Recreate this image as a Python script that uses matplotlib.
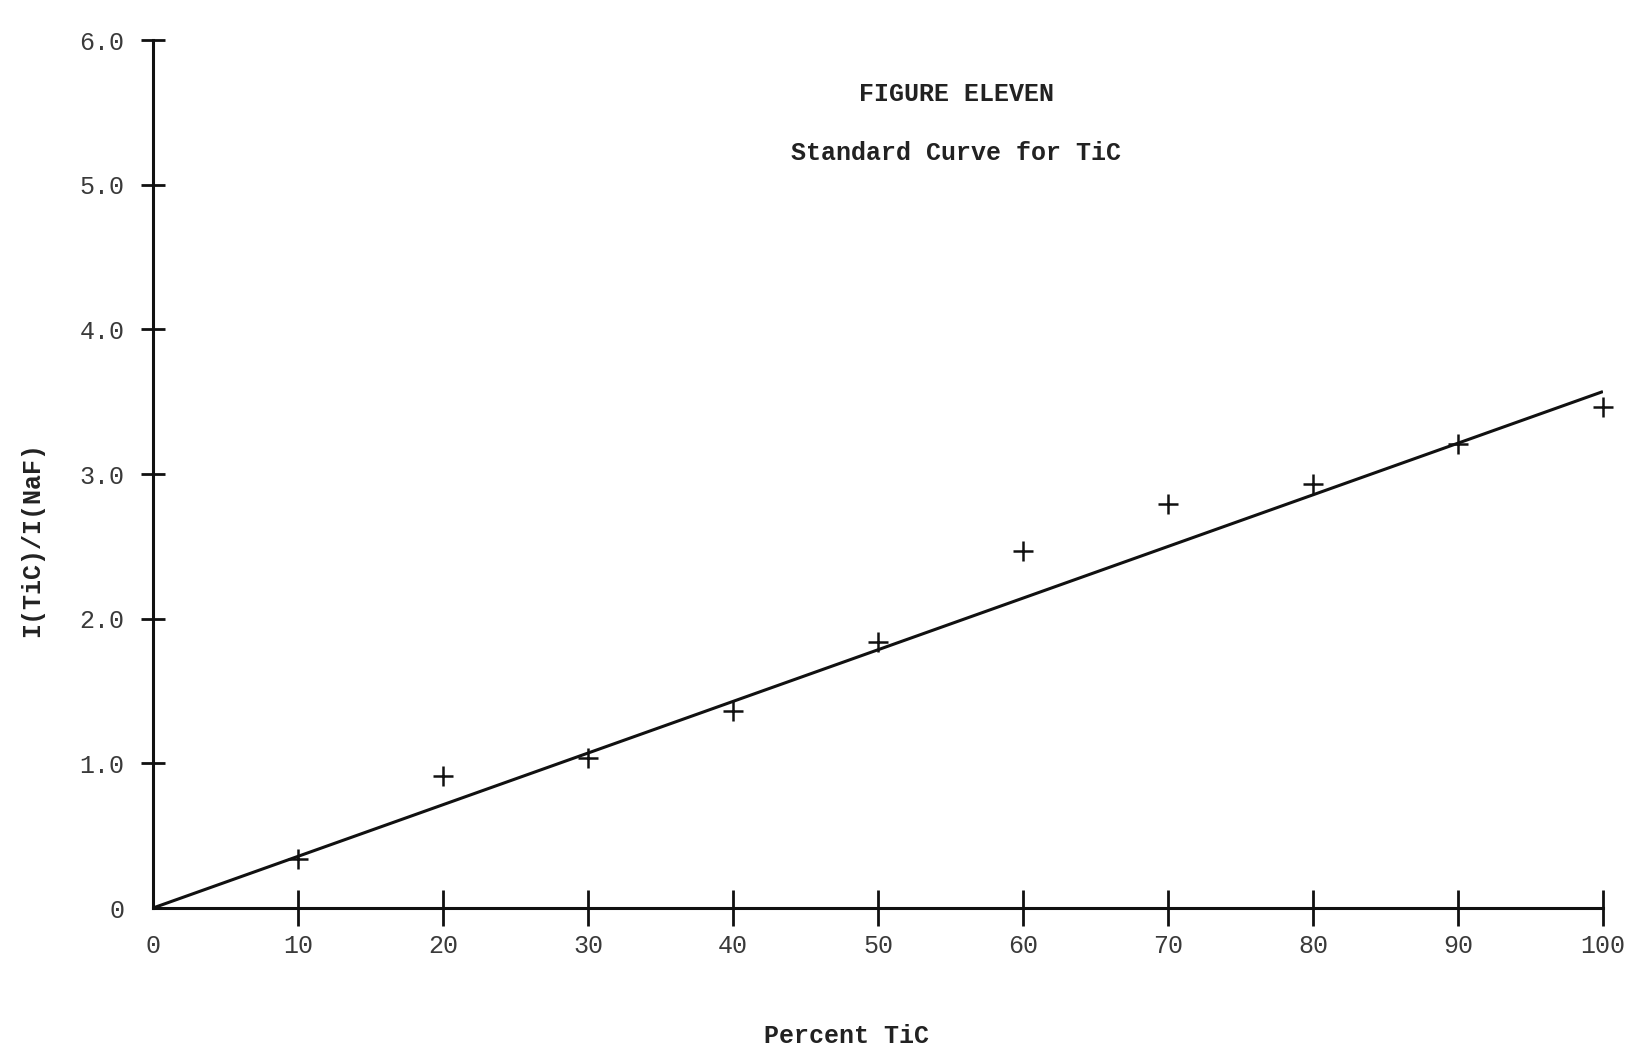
import numpy as np
import matplotlib.pyplot as plt

# percent TiC and measured intensity ratio
percent = [10, 20, 30, 40, 50, 60, 70, 80, 90, 100]
ratio = [0.34, 0.91, 1.04, 1.36, 1.84, 2.47, 2.79, 2.93, 3.21, 3.46]

# drawn standard curve (straight line through origin)
fit_x = [0, 100]
fit_y = [0, 3.57]

xticks = [0, 10, 20, 30, 40, 50, 60, 70, 80, 90, 100]
yticks = [0, 1, 2, 3, 4, 5, 6]
ytick_labels = ['0', '1.0', '2.0', '3.0', '4.0', '5.0', '6.0']

plt.rcParams['font.family'] = ['Liberation Mono', 'DejaVu Sans Mono']

fig = plt.figure(figsize=(16.38, 10.53), dpi=100)
ax = fig.add_axes([0.0934, 0.1377, 0.8852, 0.8243])

ax.plot(fit_x, fit_y, color='#111111', linewidth=2.2, solid_capstyle='butt')
ax.plot(percent, ratio, linestyle='none', marker='+', markersize=14,
        markeredgewidth=1.8, color='#111111', clip_on=False)

ax.set_xlim(0, 100)
ax.set_ylim(0, 6)

for s in ['top', 'right']:
    ax.spines[s].set_visible(False)
for s in ['left', 'bottom']:
    ax.spines[s].set_linewidth(2.2)
    ax.spines[s].set_color('#111111')

ax.set_xticks(xticks)
ax.set_xticklabels([str(v) for v in xticks])
ax.set_yticks(yticks)
ax.set_yticklabels(ytick_labels)

ax.tick_params(axis='x', direction='inout', length=26, width=2, color='#111111',
               labelsize=18, labelcolor='#3a3a3a', pad=6)
ax.tick_params(axis='y', direction='inout', length=17, width=2, color='#111111',
               labelsize=18, labelcolor='#3a3a3a', pad=12)
# no crossing tick at the origin
ax.xaxis.get_major_ticks()[0].tick1line.set_visible(False)
ax.yaxis.get_major_ticks()[0].tick1line.set_visible(False)

# axis titles placed where the typist put them
fig.text(0.517, 0.016, 'Percent TiC', ha='center', va='center', fontsize=18,
         color='#222222', fontweight='bold')
fig.text(0.0195, 0.488, 'I(TiC)/I(NaF)', ha='center', va='center', fontsize=18,
         color='#222222', fontweight='bold', rotation=90)

ax.text(55.4, 5.63, 'FIGURE ELEVEN', ha='center', va='center', fontsize=18,
        color='#222222', fontweight='bold')
ax.text(55.4, 5.22, 'Standard Curve for TiC', ha='center', va='center', fontsize=18,
        color='#222222', fontweight='bold')

fig.savefig('out.png', dpi=100)
